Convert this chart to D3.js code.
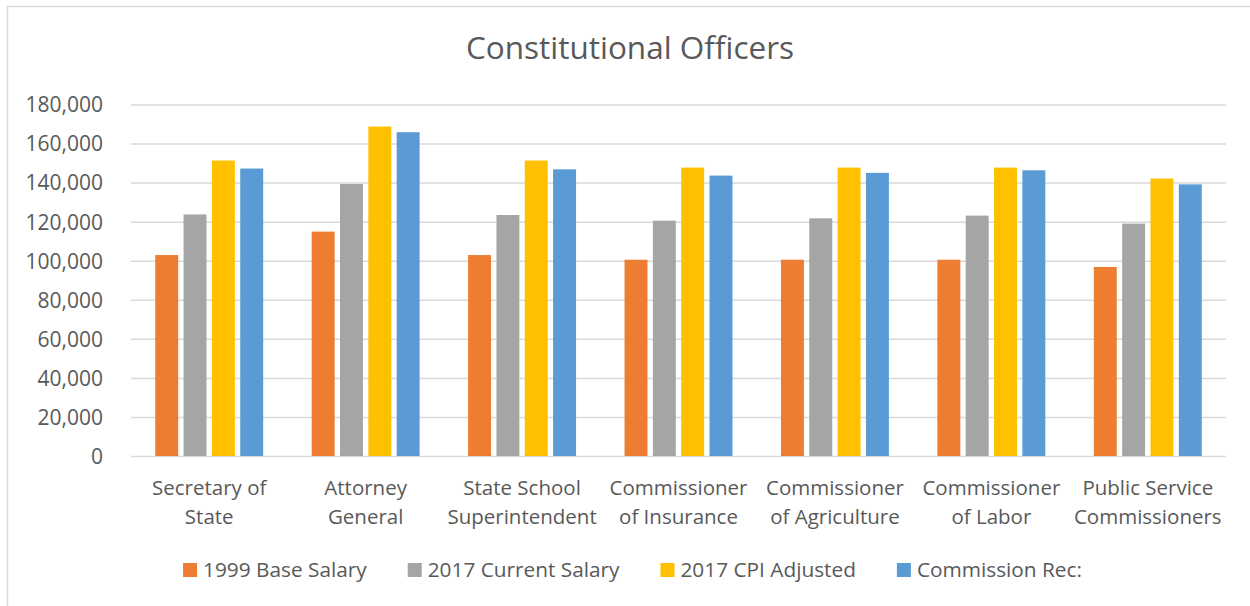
<!doctype html>
<html>
<head>
<meta charset="utf-8">
<style>
  body { margin: 0; background: #fff; }
  svg { display: block; font-family: "Open Sans", "Noto Sans", sans-serif; }
  .grid line { stroke: #d9d9d9; stroke-width: 1.5; }
  .tick text { fill: #595959; }
</style>
<script src="https://cdn.jsdelivr.net/npm/d3@7"></script>
</head>
<body>
<svg width="1250" height="606"></svg>
<script>
// data
var categories = [
  ["Secretary of", "State"],
  ["Attorney", "General"],
  ["State School", "Superintendent"],
  ["Commissioner", "of Insurance"],
  ["Commissioner", "of Agriculture"],
  ["Commissioner", "of Labor"],
  ["Public Service", "Commissioners"]
];
var seriesNames = ["1999 Base Salary", "2017 Current Salary", "2017 CPI Adjusted", "Commission Rec:"];
var base1999  = [102900, 114900, 102900, 100500, 100500, 100500, 96800];
var current17 = [123700, 139300, 123400, 120500, 121700, 123100, 119000];
var cpi17     = [151300, 168700, 151300, 147700, 147700, 147700, 142100];
var commRec   = [147200, 165800, 146800, 143600, 145000, 146300, 139100];
var yTicks = [0, 20000, 40000, 60000, 80000, 100000, 120000, 140000, 160000, 180000];
var colors = ["#ed7d31", "#a5a5a5", "#ffc000", "#5b9bd5"];

var allSeries = [base1999, current17, cpi17, commRec];

var svg = d3.select("svg");
var plotLeft = 131, plotRight = 1226, plotTop = 104.5, plotBottom = 456;

// chart border (left + top edges visible)
svg.append("path")
   .attr("d", "M7.5,606 V6.5 H1250")
   .attr("fill", "none")
   .attr("stroke", "#d9d9d9")
   .attr("stroke-width", 1.5);

svg.append("text")
   .attr("x", 630)
   .attr("y", 59)
   .attr("text-anchor", "middle")
   .attr("font-size", "31.5px")
   .attr("fill", "#595959")
   .text("Constitutional Officers");

var catIdx = d3.range(categories.length);
var x0 = d3.scaleBand().domain(catIdx).range([plotLeft, plotRight]).paddingInner(0.31).paddingOuter(0.155);
var x1 = d3.scaleBand().domain(d3.range(seriesNames.length)).range([0, x0.bandwidth()]).paddingInner(0.19);
var y = d3.scaleLinear().domain([0, 180000]).range([plotBottom, plotTop]);

// y axis + gridlines
var yAxis = svg.append("g")
   .attr("class", "grid")
   .attr("transform", "translate(" + plotLeft + ",0)")
   .call(d3.axisLeft(y).tickValues(yTicks).tickFormat(d3.format(",")).tickSize(-(plotRight - plotLeft)).tickPadding(28));
yAxis.attr("font-family", null).attr("font-size", null);
yAxis.select(".domain").remove();
yAxis.selectAll("text").attr("font-size", "21px").attr("dy", "0.35em");

// bars
var groups = svg.append("g").selectAll("g")
   .data(catIdx)
   .enter().append("g")
   .attr("transform", function(i) { return "translate(" + x0(i) + ",0)"; });

groups.selectAll("rect")
   .data(function(i) { return allSeries.map(function(s, k) { return { k: k, v: s[i] }; }); })
   .enter().append("rect")
   .attr("x", function(d) { return x1(d.k); })
   .attr("y", function(d) { return y(d.v); })
   .attr("width", x1.bandwidth())
   .attr("height", function(d) { return y(0) - y(d.v); })
   .attr("fill", function(d) { return colors[d.k]; });

// x axis labels
var xAxis = svg.append("g")
   .attr("transform", "translate(0," + plotBottom + ")")
   .call(d3.axisBottom(x0).tickSize(0).tickFormat(""));
xAxis.attr("font-family", null).attr("font-size", null);
xAxis.select(".domain").remove();
xAxis.selectAll(".tick").each(function(i) {
  var t = d3.select(this).append("text")
     .attr("text-anchor", "middle")
     .attr("font-size", "20.5px")
     .attr("fill", "#595959");
  categories[i].forEach(function(line, j) {
    t.append("tspan").attr("x", 0).attr("y", 39 + j * 28.5).text(line);
  });
});

// legend
var legend = svg.append("g");
var items = legend.selectAll("g").data(seriesNames).enter().append("g");
items.append("rect")
   .attr("width", 14).attr("height", 14)
   .attr("y", 563)
   .attr("fill", function(d, k) { return colors[k]; });
items.append("text")
   .attr("x", 20)
   .attr("y", 577)
   .attr("font-size", "20.8px")
   .attr("fill", "#595959")
   .text(function(d) { return d; });
var offs = [], cur = 0;
items.each(function() {
  offs.push(cur);
  cur += 20 + d3.select(this).select("text").node().getComputedTextLength() + 41;
});
var total = cur - 41;
var start = 632.5 - total / 2;
items.attr("transform", function(d, k) { return "translate(" + (start + offs[k]) + ",0)"; });
</script>
</body>
</html>
